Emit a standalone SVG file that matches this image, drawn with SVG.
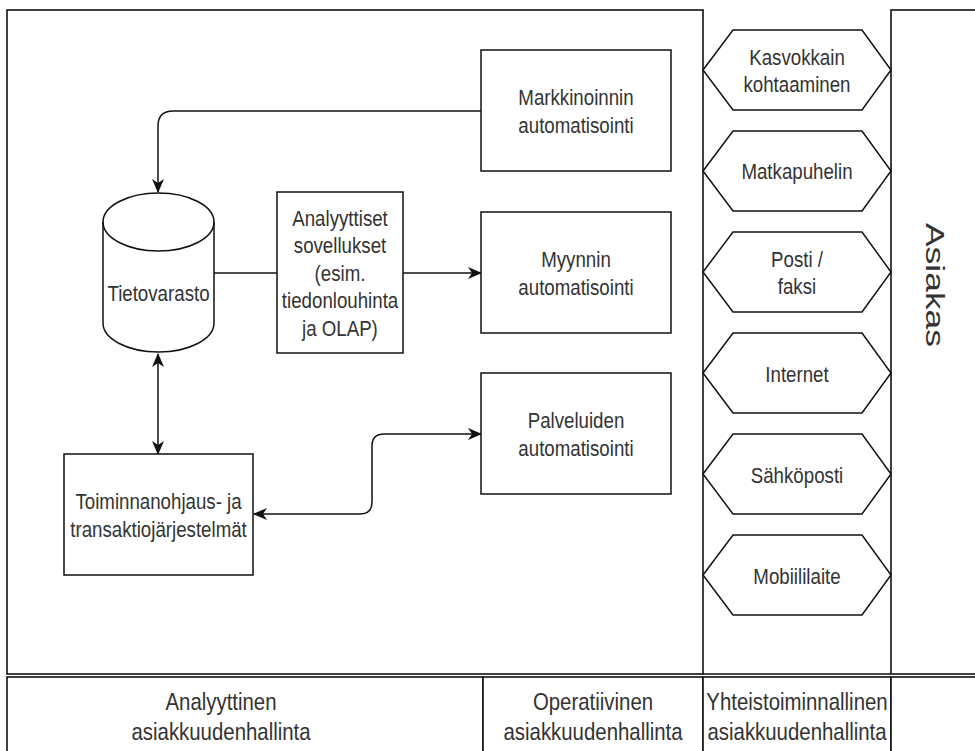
<svg xmlns="http://www.w3.org/2000/svg" width="975" height="751" viewBox="0 0 975 751">
<style>
.f{fill:#fff;stroke:#111;stroke-width:1.6}
.b{fill:#fff;stroke:#111;stroke-width:1.5}
.l{fill:none;stroke:#111;stroke-width:1.5}
.t{font-family:"Liberation Sans",Arial,sans-serif;font-size:22px;fill:#333;text-anchor:middle;transform-box:fill-box;transform-origin:center;transform:scaleX(.85)}
.bt{font-size:24px}
</style>
<defs>
<marker id="arr" viewBox="0 0 14 12" markerWidth="14" markerHeight="12" refX="13" refY="6" markerUnits="userSpaceOnUse" orient="auto-start-reverse">
<path d="M0,0 L14,6 L0,12 L4,6 Z" fill="#111"/>
</marker>
</defs>
<rect width="975" height="751" fill="#fff"/>
<g id="frames">
<rect class="f" x="7" y="10" width="696" height="664"/>
<rect class="f" x="891" y="10" width="100" height="664"/>
<line class="f" x1="703" y1="674" x2="891" y2="674"/>
<rect class="f" x="7" y="677" width="476" height="90"/>
<rect class="f" x="483" y="677" width="220" height="90"/>
<rect class="f" x="703" y="677" width="188" height="90"/>
<rect class="f" x="891" y="677" width="100" height="90"/>
</g>
<g id="lane-labels">
<text class="t bt" x="221" y="710">Analyyttinen</text>
<text class="t bt" x="221" y="740">asiakkuudenhallinta</text>
<text class="t bt" x="593" y="710">Operatiivinen</text>
<text class="t bt" x="593" y="740">asiakkuudenhallinta</text>
<text class="t bt" x="797" y="710">Yhteistoiminnallinen</text>
<text class="t bt" x="797" y="740">asiakkuudenhallinta</text>
</g>
<g id="asiakas">
<text font-family="Liberation Sans, Arial, sans-serif" font-size="26" fill="#333" text-anchor="middle" textLength="124" lengthAdjust="spacingAndGlyphs" transform="translate(926,285) rotate(90)">Asiakas</text>
</g>
<g id="connectors">
<path class="l" d="M481,111 H173 Q158,111 158,126 V192" marker-end="url(#arr)"/>
<path class="l" d="M214,273 H277"/>
<path class="l" d="M403,273 H481" marker-end="url(#arr)"/>
<path class="l" d="M158,354 V454" marker-start="url(#arr)" marker-end="url(#arr)"/>
<path class="l" d="M254,514 H360 Q372,514 372,502 V446 Q372,434 384,434 H481" marker-start="url(#arr)" marker-end="url(#arr)"/>
</g>
<g id="markkinoinnin">
<rect class="b" x="481" y="50" width="190" height="121"/>
<text class="t" x="576" y="105">Markkinoinnin</text>
<text class="t" x="576" y="133">automatisointi</text>
</g>
<g id="myynnin">
<rect class="b" x="481" y="212" width="190" height="121"/>
<text class="t" x="576" y="267">Myynnin</text>
<text class="t" x="576" y="295">automatisointi</text>
</g>
<g id="palveluiden">
<rect class="b" x="481" y="373" width="190" height="121"/>
<text class="t" x="576" y="428">Palveluiden</text>
<text class="t" x="576" y="456">automatisointi</text>
</g>
<g id="analyyttiset">
<rect class="b" x="277" y="192" width="126" height="161"/>
<text class="t" x="340" y="226">Analyyttiset</text>
<text class="t" x="340" y="253.5">sovellukset</text>
<text class="t" x="340" y="281">(esim.</text>
<text class="t" x="340" y="308.5">tiedonlouhinta</text>
<text class="t" x="340" y="336">ja OLAP)</text>
</g>
<g id="tietovarasto">
<path class="b" d="M103,222 A55.5,29 0 0 1 214,222 V323 A55.5,29 0 0 1 103,323 Z"/>
<path class="l" d="M103,222 A55.5,29 0 0 0 214,222"/>
<text class="t" x="158.5" y="301">Tietovarasto</text>
</g>
<g id="toiminnanohjaus">
<rect class="b" x="64" y="454" width="189" height="121"/>
<text class="t" x="158.5" y="509">Toiminnanohjaus- ja</text>
<text class="t" x="158.5" y="537">transaktiojärjestelmät</text>
</g>
<g id="kasvokkain">
<polygon class="b" points="703,70 733,30 862,30 891,70 862,110 733,110"/>
<text class="t" x="797" y="65">Kasvokkain</text>
<text class="t" x="797" y="92">kohtaaminen</text>
</g>
<g id="matkapuhelin">
<polygon class="b" points="703,171 733,131 862,131 891,171 862,211 733,211"/>
<text class="t" x="797" y="179">Matkapuhelin</text>
</g>
<g id="posti">
<polygon class="b" points="703,272 733,232 862,232 891,272 862,312 733,312"/>
<text class="t" x="797" y="267">Posti /</text>
<text class="t" x="797" y="294">faksi</text>
</g>
<g id="internet">
<polygon class="b" points="703,373 733,333 862,333 891,373 862,413 733,413"/>
<text class="t" x="797" y="382">Internet</text>
</g>
<g id="sahkoposti">
<polygon class="b" points="703,474 733,434 862,434 891,474 862,514 733,514"/>
<text class="t" x="797" y="483">Sähköposti</text>
</g>
<g id="mobiililaite">
<polygon class="b" points="703,575 733,535 862,535 891,575 862,615 733,615"/>
<text class="t" x="797" y="584">Mobiililaite</text>
</g>
</svg>
